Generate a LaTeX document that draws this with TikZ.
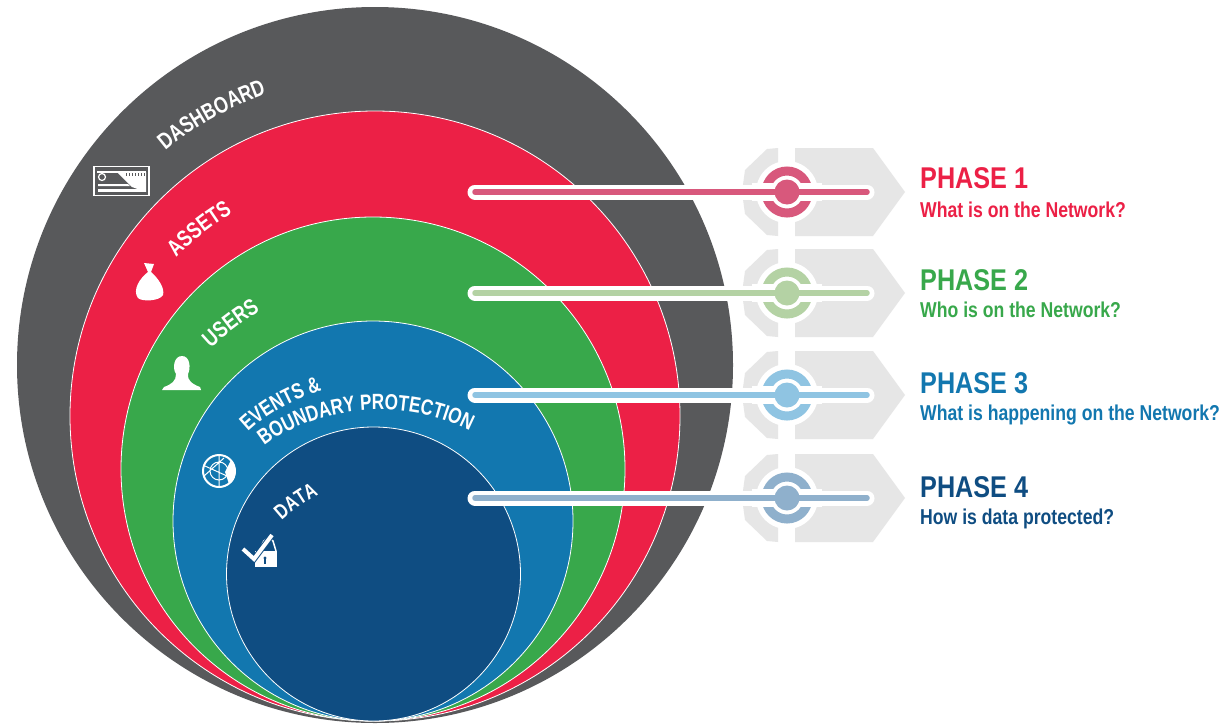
\documentclass[tikz,border=0pt]{standalone}
\usepackage{fontspec}
\usetikzlibrary{decorations.text}
\setmainfont{Liberation Sans}
\newfontfamily\condb[FakeStretch=0.84]{Liberation Sans Bold}
\newfontfamily\condr[FakeStretch=0.82]{Liberation Sans Bold}
\newfontfamily\condc[FakeStretch=0.78]{Liberation Sans Bold}
\definecolor{cgray}{HTML}{58595B}
\definecolor{cred}{HTML}{EC2046}
\definecolor{cgreen}{HTML}{38A84B}
\definecolor{cblue}{HTML}{1277AF}
\definecolor{cnavy}{HTML}{0F4D82}
\definecolor{lred}{HTML}{D8587C}
\definecolor{lgreen}{HTML}{B4D2A4}
\definecolor{lblue}{HTML}{8FC4E2}
\definecolor{lnavy}{HTML}{8FB0CC}
\definecolor{hexg}{HTML}{E6E6E6}
\tikzset{
  x=1pt,y=-1pt,
  disc/.style={circle,inner sep=0pt,draw=white,line width=.8pt},
  phase/.style={anchor=base west,inner sep=0pt,font=\condb\fontsize{30}{30}\selectfont},
  subtext/.style={anchor=base west,inner sep=0pt,font=\condr\fontsize{21.5}{22}\selectfont},
  hexpart/.style={fill=hexg,draw=none},
  icon/.style={fill=white,draw=none},
}
\newcommand{\curvedlabel}[3]{\path[decorate,decoration={text along path,text align=center,text color=white,text={|\condc\fontsize{#1}{#1}\selectfont|#3}}] #2;}
% #1 y, #2 line colour, #3 name
\newcommand{\phasemark}[3]{%
  \begin{scope}[shift={(0,#1)}]
    \fill[hexpart] (778,-44) -- (767,-43) -- (745,-22) -- (742,0) -- (745,22) -- (767,43) -- (778,44) -- cycle;
    \fill[hexpart] (795,-44) -- (873,-44) -- (905,0) -- (873,44) -- (795,44) -- cycle;
    \coordinate (#3start) at (475,0);
    \coordinate (#3end) at (867,0);
    \node[circle,inner sep=0pt,minimum size=62pt,fill=white] (#3halo) at (787,0) {};
    \draw[#2,line width=9pt] (787,0) circle (21);
    \draw[white,line width=15pt,line cap=round] (#3start) -- (#3end);
    \draw[white,line width=18pt] (752,0) -- (822,0);
    \draw[#2,line width=5.5pt,line cap=round] (#3start) -- (#3end);
    \node[circle,inner sep=0pt,minimum size=25pt,fill=#2] (#3dot) at (787,0) {};
  \end{scope}}
\begin{document}
\begin{tikzpicture}
\useasboundingbox (0,0) rectangle (1230,723);
\fill[white] (0,0) rectangle (1230,723);
\node[disc,minimum size=716pt,fill=cgray,draw=none] (dash) at (375,365) {};
\node[disc,minimum size=610pt,fill=cred] (assets) at (375,416) {};
\node[disc,minimum size=504pt,fill=cgreen] (users) at (373,469) {};
\node[disc,minimum size=400pt,fill=cblue] (events) at (373,521) {};
\node[disc,minimum size=294pt,fill=cnavy] (data) at (373.5,574) {};

\curvedlabel{23}{(157,158) .. controls (190,127) and (232,106) .. (277,90)}{DASHBOARD}
\curvedlabel{23}{(172,262) .. controls (189,243) and (213,224) .. (238,210)}{ASSETS}
\curvedlabel{23}{(206,353) .. controls (223,336) and (243,321) .. (266,307)}{USERS}
\curvedlabel{22}{(242,438) .. controls (264,414) and (297,397) .. (330,388)}{EVENTS {\&}}
\curvedlabel{22}{(252,457) .. controls (295,412) and (400,387) .. (484,439)}{BOUNDARY PROTECTION}
\curvedlabel{21}{(276,526) .. controls (288,513) and (308,499) .. (326,491)}{DATA}

% dashboard icon
\draw[white,line width=1.3pt] (94,166.5) rectangle (149,195.5);
\fill[white] (117,172) -- (146,172) -- (146,192) -- (132,187) -- cycle;
\foreach \bx in {126,129,...,144} {\draw[cgray,line width=.7pt] (\bx,172) -- (\bx,176);}
\fill[white] (97,171) rectangle (146,172.5);
\draw[white,line width=1.2pt] (102,177) circle (3.5);
\fill[white] (98,184) -- (128,184) -- (130,186) -- (98,186) -- cycle;
\fill[white] (98,189) rectangle (146,192);
% bag icon
\fill[icon] (144,263) -- (154,264) -- (151,272) .. controls (158,278) and (165,288) .. (163,295) .. controls (160,301) and (142,302) .. (138,298) .. controls (132,290) and (140,278) .. (148,272) -- cycle;
% person icon
\fill[icon] (182,356) .. controls (190,356) and (191,368) .. (188,374) .. controls (187,380) and (192,384) .. (200,387) -- (201,390) -- (162,390) -- (164,387) .. controls (172,384) and (176,381) .. (176,374) .. controls (172,368) and (174,356) .. (182,356) -- cycle;
% globe icon
\draw[white,line width=2pt] (219,471) circle (16);
\fill[white] (231,460) .. controls (238,470) and (236,481) .. (229,484) -- (225,472) -- cycle;
\draw[white,line width=1pt] (219,471) circle (9) (205,466) -- (227,476) (219,456) -- (219,486) (204,476) -- (224,458);
% check + lock icon
\fill[white] (255,551) rectangle (277,567);
\draw[white,line width=1.5pt] (261,551) -- (262,545) .. controls (263,539) and (270,536) .. (273,541) -- (276,551);
\draw[cnavy,line width=6pt] (243,549) -- (254,559) -- (272,535);
\draw[white,line width=4pt] (243,549) -- (254,559) -- (272,535);
\fill[cnavy] (265,558) circle (1.6);
\fill[cnavy] (264.3,558) rectangle (265.7,564);

\phasemark{192}{lred}{pa}
\phasemark{293}{lgreen}{pb}
\phasemark{395}{lblue}{pc}
\phasemark{498}{lnavy}{pd}

\node[phase,text=cred] (ph1) at (920,188) {PHASE 1};
\node[subtext,text=cred] (sub1) at (920,217) {What is on the Network?};
\node[phase,text=cgreen] (ph2) at (920,290) {PHASE 2};
\node[subtext,text=cgreen] (sub2) at (920,317) {Who is on the Network?};
\node[phase,text=cblue] (ph3) at (920,393) {PHASE 3};
\node[subtext,text=cblue] (sub3) at (920,420) {What is happening on the Network?};
\node[phase,text=cnavy] (ph4) at (920,497) {PHASE 4};
\node[subtext,text=cnavy] (sub4) at (920,524) {How is data protected?};
\end{tikzpicture}
\end{document}
